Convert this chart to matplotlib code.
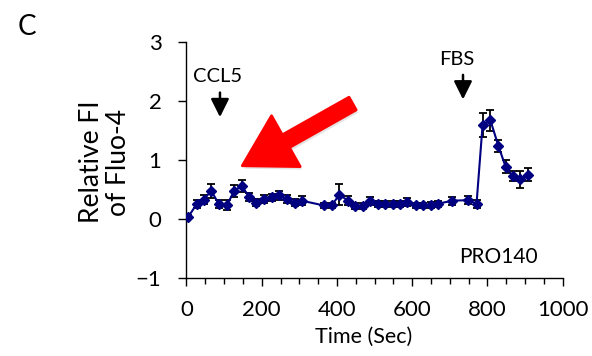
import numpy as np
import matplotlib
matplotlib.use("Agg")
import matplotlib.pyplot as plt
from matplotlib.ticker import MultipleLocator

plt.rcParams["font.family"] = ["Lato", "DejaVu Sans"]

# time (s), relative FI of Fluo-4, error
time_s = [5, 27, 46, 66, 86, 108, 127, 147, 167, 186, 206, 226, 245, 266, 288,
          307, 365, 386, 406, 430, 448, 468, 487, 508, 529, 548, 567, 585,
          609, 629, 650, 669, 706, 747, 771,
          787, 808, 829, 848, 867, 886, 907]
rel_fi = [0.04, 0.25, 0.33, 0.48, 0.25, 0.24, 0.48, 0.56, 0.37, 0.28, 0.34, 0.37, 0.40, 0.34, 0.28,
          0.31, 0.23, 0.23, 0.41, 0.31, 0.22, 0.22, 0.31, 0.26, 0.26, 0.26, 0.26, 0.29,
          0.23, 0.23, 0.24, 0.26, 0.31, 0.32, 0.26,
          1.59, 1.67, 1.24, 0.89, 0.73, 0.67, 0.75]
err = [0.03, 0.07, 0.07, 0.12, 0.07, 0.08, 0.10, 0.10, 0.07, 0.06, 0.06, 0.06, 0.07, 0.06, 0.06,
       0.08, 0.05, 0.05, 0.18, 0.08, 0.05, 0.05, 0.07, 0.05, 0.05, 0.05, 0.05, 0.07,
       0.05, 0.05, 0.05, 0.05, 0.07, 0.07, 0.07,
       0.20, 0.18, 0.10, 0.11, 0.09, 0.14, 0.11]

fig = plt.figure(figsize=(5.92, 3.56), dpi=100)
ax = fig.add_axes([0.315, 0.219, 0.6355, 0.663])

ax.errorbar(time_s, rel_fi, yerr=err, color="#000080", ecolor="black", elinewidth=1.3,
            capsize=3, capthick=1.3, lw=1.5, marker="D", ms=5, mfc="#000080", mec="#000080",
            zorder=3)

ax.set_xlim(0, 1000)
ax.set_ylim(-1, 3)
ax.xaxis.set_major_locator(MultipleLocator(200))
ax.xaxis.set_minor_locator(MultipleLocator(50))
ax.yaxis.set_major_locator(MultipleLocator(1))
ax.spines["top"].set_visible(False)
ax.spines["right"].set_visible(False)
for s in ("left", "bottom"):
    ax.spines[s].set_linewidth(1.0)
ax.tick_params(axis="x", which="major", length=6, width=1, pad=10, labelsize=16)
ax.tick_params(axis="x", which="minor", length=4, width=1)
ax.tick_params(axis="y", which="major", length=6, width=1, pad=12, labelsize=16)

ax.set_xlabel("Time (Sec)", fontsize=15.5)
ax.xaxis.set_label_coords(0.47, -0.205)
fig.text(0.177, 0.545, "Relative FI\nof Fluo-4", rotation=90, fontsize=19,
         ha="center", va="center", linespacing=1.1)
fig.text(0.045, 0.925, "C", fontsize=20, ha="center", va="center")

# treatment markers
arrow_style = "-|>,head_length=1.1,head_width=0.55"
ax.text(82, 2.41, "CCL5", fontsize=14.5, ha="center", va="center")
ax.annotate("", xy=(89, 1.68), xytext=(89, 2.19),
            arrowprops=dict(arrowstyle=arrow_style, color="black", lw=1.8))
ax.text(718, 2.71, "FBS", fontsize=14.5, ha="center", va="center")
ax.annotate("", xy=(735, 1.98), xytext=(735, 2.49),
            arrowprops=dict(arrowstyle=arrow_style, color="black", lw=1.8))
ax.text(829, -0.64, "PRO140", fontsize=15, ha="center", va="center")

# big red pointer
red_style = "simple,head_length=36,head_width=42,tail_width=10.5"
ax.annotate("", xy=(147, 0.83), xytext=(453, 1.93),
            arrowprops=dict(arrowstyle=red_style, mutation_scale=1,
                            color="#b0b0b0", alpha=0.35, lw=0),
            zorder=4)
ax.annotate("", xy=(142, 0.88), xytext=(448, 1.98),
            arrowprops=dict(arrowstyle=red_style, mutation_scale=1,
                            fc="#ff0000", ec="#ff0000", lw=2, joinstyle="round"),
            zorder=5)

fig.savefig("out.png", dpi=100)
